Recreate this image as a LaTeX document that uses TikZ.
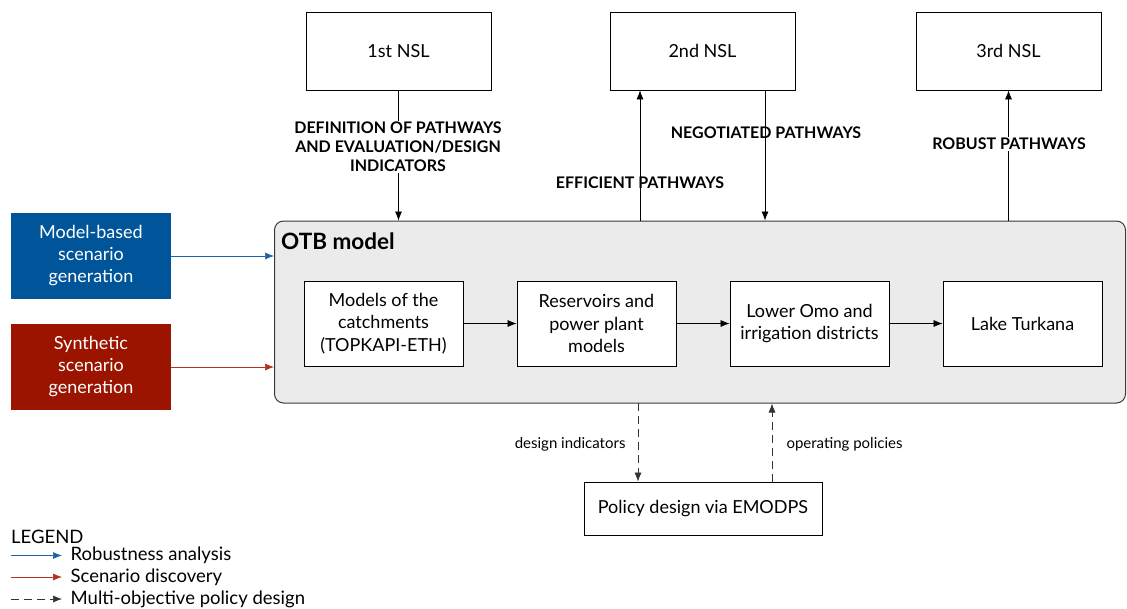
\documentclass[tikz,border=0pt]{standalone}
\usepackage{fontspec}
\setmainfont{Lato}
\usetikzlibrary{arrows.meta}

\definecolor{mbblue}{HTML}{00559A}
\definecolor{synred}{HTML}{9A1400}
\definecolor{arrblue}{HTML}{1E62A8}
\definecolor{arrred}{HTML}{B2321E}
\definecolor{otbgray}{HTML}{EBEBEB}
\definecolor{otbline}{HTML}{3A3A3A}

\tikzset{
  nslbox/.style={draw, line width=0.8pt, fill=white, minimum width=185pt, minimum height=78pt,
    font=\fontsize{18}{22}\selectfont},
  subbox/.style={draw, line width=0.8pt, fill=white, minimum width=159pt, minimum height=85pt,
    align=center, font=\fontsize{18}{22.5}\selectfont},
  scenbox/.style={minimum width=160pt, minimum height=86pt, align=center, text=white,
    font=\fontsize{18}{22}\selectfont},
  lbl/.style={font=\bfseries\fontsize{16}{19}\selectfont, align=center},
  small/.style={font=\fontsize{15}{17}\selectfont},
  arr/.style={-{Latex[length=9pt,width=7pt]}, line width=0.7pt},
  dasharr/.style={arr, dash pattern=on 8pt off 5pt, draw=black!80},
  legtext/.style={anchor=west, xshift=5pt, font=\fontsize{18.5}{20}\selectfont}
}

\begin{document}
\begin{tikzpicture}[x=1pt,y=-1pt]
\useasboundingbox (0,0) rectangle (1127,608);

%NSL BOXES
\node[nslbox] (nsl1) at (398.5,51) {1st NSL};
\node[nslbox] (nsl2) at (702.5,51) {2nd NSL};
\node[nslbox] (nsl3) at (1008.5,51) {3rd NSL};

%OTB MODEL
\node[draw=otbline, fill=otbgray, line width=1pt, rounded corners=9pt,
  minimum width=851pt, minimum height=182pt] (otb) at (700,312) {};
\node[anchor=base west, font=\bfseries\fontsize{22.5}{24}\selectfont, inner sep=0pt]
  (otbname) at (281,249) {OTB model};

% components
\node[subbox] (catch) at (383.5,323.5) {Models of the\\catchments\\(TOPKAPI-ETH)};
\node[subbox] (res) at (596.5,323.5) {Reservoirs and\\power plant\\models};
\node[subbox] (omo) at (809.5,323.5) {Lower Omo and\\irrigation districts};
\node[subbox] (lake) at (1022.5,323.5) {Lake Turkana};
\draw[arr] (catch) -- (res);
\draw[arr] (res) -- (omo);
\draw[arr] (omo) -- (lake);

%SCENARIOS
\node[scenbox, fill=mbblue] (mb) at (91,256) {Model-based\\scenario\\generation};
\node[scenbox, fill=synred] (syn) at (91,367) {Synthetic\\scenario\\generation};
\draw[arr, draw=arrblue, -{Latex[length=9pt,width=7pt,fill=arrblue]}] (mb) -- (mb -| otb.west);
\draw[arr, draw=arrred, -{Latex[length=9pt,width=7pt,fill=arrred]}] (syn) -- (syn -| otb.west);

%NSL LINKS
\draw[arr] (nsl1) -- (nsl1 |- otb.north);
\node[lbl, fill=white, inner sep=1pt] (deflbl) at (398,147) {DEFINITION OF PATHWAYS\\AND EVALUATION/DESIGN\\INDICATORS};
\coordinate (effbot) at (640,221);
\draw[arr] (effbot) -- (effbot |- nsl2.south);
\node[lbl] (efflbl) at (640,183) {EFFICIENT PATHWAYS};
\coordinate (negtop) at (765,90);
\draw[arr] (negtop) -- (negtop |- otb.north);
\node[lbl] (neglbl) at (766,133) {NEGOTIATED PATHWAYS};
\draw[arr] (nsl3 |- otb.north) -- (nsl3);
\node[lbl, fill=white, inner sep=1pt] (roblbl) at (1009,144) {ROBUST PATHWAYS};

%POLICY DESIGN
\node[nslbox, minimum width=238pt, minimum height=53pt] (emodps) at (703,508.5) {Policy design via EMODPS};
\coordinate (ditop) at (638,403);
\draw[dasharr] (ditop) -- (ditop |- emodps.north);
\coordinate (opbot) at (772,482);
\draw[dasharr] (opbot) -- (opbot |- otb.south);
\node[small, anchor=east] (dilbl) at (629,444) {design indicators};
\node[small, anchor=west] (oplbl) at (783,444) {operating policies};

%LEGEND
\node[anchor=base west, font=\fontsize{18.5}{20}\selectfont, inner sep=0pt] (legend) at (11,543) {LEGEND};
\coordinate (l1) at (11,555.5);
\coordinate (l2) at (11,577);
\coordinate (l3) at (11,599);
\draw[arr, draw=arrblue, -{Latex[length=9pt,width=7pt,fill=arrblue]}] (l1) -- ++(51,0) node[legtext, text=black] {Robustness analysis};
\draw[arr, draw=arrred, -{Latex[length=9pt,width=7pt,fill=arrred]}] (l2) -- ++(51,0) node[legtext, text=black] {Scenario discovery};
\draw[dasharr] (l3) -- ++(51,0) node[legtext, text=black] {Multi-objective policy design};

\end{tikzpicture}
\end{document}
